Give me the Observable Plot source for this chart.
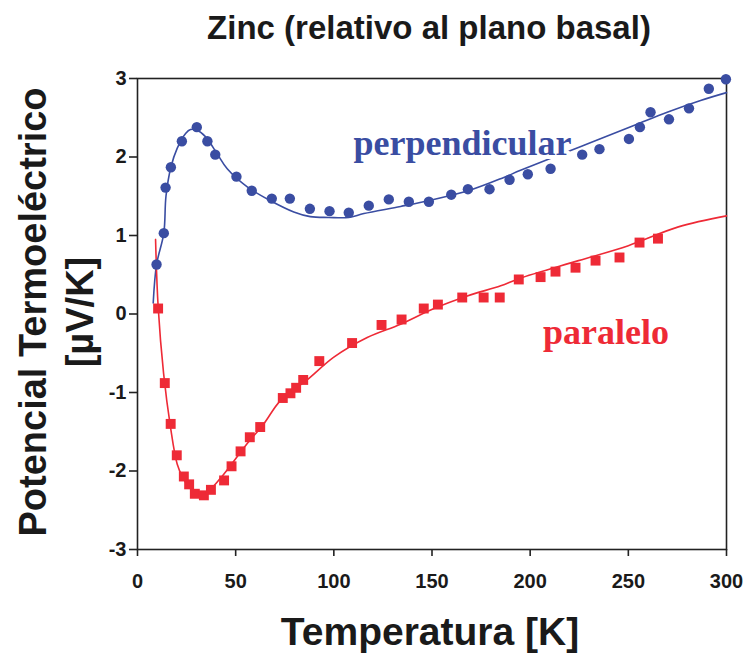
<!DOCTYPE html>
<html>
<head>
<meta charset="utf-8">
<script src="https://cdn.jsdelivr.net/npm/d3@7"></script>
<script src="https://cdn.jsdelivr.net/npm/@observablehq/plot@0.6"></script>
<style>
  html, body { margin: 0; padding: 0; background: #fff; }
</style>
</head>
<body>
<div id="chart"></div>
<script>
// ---- Data ----
const title = "Zinc (relativo al plano basal)";
const xTitle = "Temperatura [K]";
const yTitle = "Potencial Termoeléctrico";
const yUnit = "[µV/K]";
const xTicks = [0, 50, 100, 150, 200, 250, 300];
const yTicks = [-3, -2, -1, 0, 1, 2, 3];

// perpendicular measurements (T [K], S [µV/K])
const perpT = [9.7, 13.4, 14.3, 17.0, 22.6, 30.2, 35.6, 39.6, 50.4, 58.2, 68.4, 77.6, 87.8, 97.8, 107.6, 117.8, 128, 138.2, 148.4, 159.8, 168.3, 179.3, 189.5, 198.8, 210.4, 226.5, 235.3, 250.3, 255.9, 261.3, 270.7, 280.9, 291, 299.7];
const perpS = [0.63, 1.03, 1.61, 1.87, 2.20, 2.38, 2.20, 2.03, 1.75, 1.57, 1.47, 1.47, 1.34, 1.31, 1.29, 1.38, 1.46, 1.43, 1.43, 1.52, 1.59, 1.59, 1.71, 1.78, 1.85, 2.03, 2.10, 2.23, 2.38, 2.57, 2.48, 2.62, 2.87, 2.99];

// perpendicular fitted curve
const perpFitT = [8, 9.7, 13.4, 14.5, 17, 20.2, 24.5, 27, 30.4, 34.6, 40.6, 45.7, 55.9, 68, 79.6, 88, 97.5, 107.6, 115.3, 134, 149.3, 169.6, 186.6, 195.1, 226.5, 252.8, 269.8, 286.8, 300];
const perpFitS = [0.14, 0.63, 1.03, 1.5, 1.87, 2.11, 2.30, 2.35, 2.34, 2.26, 2.04, 1.85, 1.62, 1.44, 1.30, 1.24, 1.23, 1.23, 1.28, 1.37, 1.45, 1.58, 1.74, 1.83, 2.14, 2.40, 2.57, 2.72, 2.82];

// paralelo measurements
const paraT = [10.5, 13.9, 16.9, 20.0, 23.6, 26.3, 29.2, 33.8, 37.4, 44.1, 47.9, 52.5, 57.2, 62.5, 74.0, 77.9, 80.8, 84.4, 92.6, 109.3, 124.3, 134.5, 145.8, 153, 165.4, 176.3, 184.5, 194.2, 205.3, 212.9, 223.1, 233.3, 245.5, 255.7, 265.1];
const paraS = [0.07, -0.88, -1.40, -1.80, -2.07, -2.17, -2.29, -2.31, -2.24, -2.12, -1.94, -1.75, -1.57, -1.44, -1.07, -1.01, -0.94, -0.84, -0.60, -0.37, -0.14, -0.07, 0.07, 0.12, 0.21, 0.21, 0.21, 0.44, 0.47, 0.54, 0.59, 0.68, 0.72, 0.91, 0.96];

// paralelo fitted curve
const paraFitT = [9.2, 10.5, 13.3, 16.8, 20.2, 23, 26.1, 29, 32.1, 37.2, 42, 47.4, 55.9, 64.3, 72.9, 86.4, 100, 117, 134, 151, 168, 185, 194.2, 224.6, 250, 275.5, 300];
const paraFitS = [0.95, 0.10, -0.76, -1.44, -1.91, -2.08, -2.20, -2.27, -2.30, -2.23, -2.10, -1.93, -1.65, -1.40, -1.10, -0.84, -0.55, -0.30, -0.13, 0.07, 0.23, 0.36, 0.45, 0.68, 0.87, 1.11, 1.25];

// series labels
const seriesLabels = ["perpendicular", "paralelo"];
const labelT = [165.5, 238.6];
const labelS = [2.17, -0.24];

const blue = "#3a4da2";
const red = "#ee2a36";

const zip = (xs, ys) => xs.map((x, i) => ({x, y: ys[i]}));
const perp = zip(perpT, perpS);
const perpFit = zip(perpFitT, perpFitS);
const para = zip(paraT, paraS);
const paraFit = zip(paraFitT, paraFitS);
const labels = seriesLabels.map((t, i) => ({t, x: labelT[i], y: labelS[i], c: i === 0 ? blue : red}));

const sans = "'Liberation Sans', Arial, Helvetica, sans-serif";
const serif = "'Liberation Serif', 'Times New Roman', serif";

const chart = Plot.plot({
  width: 746,
  height: 656,
  marginLeft: 137,
  marginRight: 20,
  marginTop: 78,
  marginBottom: 107,
  style: {fontFamily: sans, fontWeight: "bold", fontSize: "20px", color: "#1a1a1a", background: "#fff"},
  x: {domain: [0, 300]},
  y: {domain: [-3, 3]},
  marks: [
    Plot.frame({stroke: "#222", strokeWidth: 1.6}),
    Plot.axisX({ticks: xTicks, tickSize: 7, tickPadding: 17, tickFormat: d => d, label: null, fontSize: 20, fontWeight: "bold", strokeWidth: 1.6, stroke: "#222"}),
    Plot.axisY({ticks: yTicks, tickSize: 8, tickPadding: 3, tickFormat: d => d, label: null, fontSize: 20, fontWeight: "bold", strokeWidth: 1.6, stroke: "#222"}),
    Plot.line(perpFit, {x: "x", y: "y", stroke: blue, strokeWidth: 1.6, curve: "catmull-rom"}),
    Plot.line(paraFit, {x: "x", y: "y", stroke: red, strokeWidth: 1.6, curve: "catmull-rom"}),
    Plot.dot(perp, {x: "x", y: "y", r: 5.2, fill: blue, stroke: "none"}),
    Plot.dot(para, {x: "x", y: "y", r: 5.6, symbol: "square", fill: red, stroke: "none"}),
    Plot.text(labels, {x: "x", y: "y", text: "t", fill: "c", fontFamily: serif, fontWeight: "bold", fontSize: 36, stroke: "white", strokeWidth: 8, paintOrder: "stroke"}),
    Plot.text([title], {frameAnchor: "top", dx: -3, dy: -50, textAnchor: "middle", lineAnchor: "middle", fontSize: 33, fontWeight: "bold", fill: "#1a1a1a"}),
    Plot.text([xTitle], {frameAnchor: "bottom", dx: -2, dy: 83, textAnchor: "middle", lineAnchor: "middle", fontSize: 39, fontWeight: "bold", fill: "#1a1a1a"}),
    Plot.text([yTitle], {frameAnchor: "left", dx: -104, dy: -2, textAnchor: "middle", lineAnchor: "middle", rotate: -90, fontSize: 38, fontWeight: "bold", fill: "#1a1a1a"}),
    Plot.text([yUnit], {frameAnchor: "left", dx: -57, dy: -2, textAnchor: "middle", lineAnchor: "middle", rotate: -90, fontSize: 38, fontWeight: "bold", fill: "#1a1a1a"})
  ]
});
document.getElementById("chart").appendChild(chart);
</script>
</body>
</html>
